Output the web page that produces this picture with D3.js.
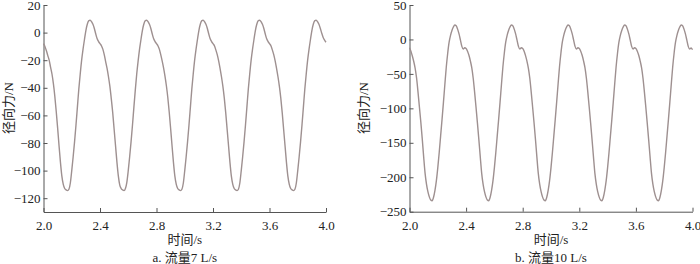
<!DOCTYPE html>
<html>
<head>
<meta charset="utf-8">
<style>
  body { margin: 0; background: #fff; }
  svg { display: block; }
  .axis path, .axis line { stroke: #555; }
  .axis text { fill: #222; font-size: 13px; font-family: "Liberation Serif", "Noto Sans CJK SC", serif; }
  .label { fill: #222; font-size: 13px; font-family: "Liberation Serif", "Noto Sans CJK SC", serif; }
</style>
</head>
<body>
<svg width="700" height="264"></svg>
<script src="https://d3js.org/d3.v7.min.js"></script>
<script>

// sampling: t = 2.00 .. 4.00, every 0.01 s
var t0 = 2.0, dt = 0.01;

var xTicks = [2.0, 2.4, 2.8, 3.2, 3.6, 4.0];
var yTicksA = [20, 0, -20, -40, -60, -80, -100, -120];
var yTicksB = [50, 0, -50, -100, -150, -200, -250];

// a. 流量7 L/s  radial force (N)
var forceA = [
  -8, -10, -13, -16.5, -20, -25, -30, -37, -46, -57,
  -69, -82, -94, -104, -110, -113, -114, -114.5, -113.5, -109,
  -100, -90, -79, -67, -54, -41, -30, -20, -12, -5,
  1.5, 6, 8.5, 9, 8, 6, 3, -1, -4.5, -6.5,

  -8, -9.5, -12, -16, -21, -26, -32, -39, -48, -58,
  -70, -82, -94, -104, -110.5, -113, -114, -114.5, -113, -108.5,
  -100, -90, -79, -67, -54, -41.5, -30, -20.5, -12, -5,
  1.5, 6, 8.5, 9, 8, 6, 3, -1, -4.5, -6.5,

  -8, -9.5, -12, -16, -20.5, -25.5, -31.5, -38.5, -47, -57.5,
  -69.5, -82, -94, -104, -110, -113, -114, -114.5, -113.5, -109,
  -100, -90, -79, -67, -54, -41, -30, -20, -12, -5,
  1.5, 6, 8.5, 9, 8, 6, 3, -1, -4.5, -6.5,

  -8, -9.5, -12.5, -16, -20.5, -26, -32, -39, -47.5, -58,
  -70, -82, -94, -104, -110, -113, -114, -114.5, -113.5, -109,
  -100, -90, -79, -67, -54, -41, -30, -20, -12, -5,
  1.5, 6, 8.5, 9, 8, 6, 3, -1, -4.5, -6.5,

  -8, -9.5, -12.5, -16, -20.5, -26, -32, -39, -47.5, -58,
  -70, -82, -94, -104, -110, -113, -114, -114.5, -113.5, -109,
  -100, -90, -79, -67, -54, -41, -30, -20, -12, -5,
  1.5, 6, 8.5, 9, 8, 6, 3, -0.5, -3.5, -5.5,
  -7
];

// b. 流量10 L/s  radial force (N)
var forceB = [
  -12, -17, -24, -32, -42, -56, -76, -98, -120, -144,
  -170, -194, -210, -221, -228.5, -233, -234, -229, -219, -205,
  -186, -164, -140, -116, -91, -65, -40, -20, -4, 6,
  13, 18, 21, 20, 15, 8, -1, -10, -14, -12,

  -13, -17, -23, -31, -41, -56, -76, -98, -121, -145,
  -170, -194, -210, -221, -228.5, -233, -234, -229, -219, -205,
  -186, -164, -140, -116, -91, -65, -40, -20, -4, 6,
  13, 18, 21, 20, 15, 8, -1, -10, -14, -12,

  -13, -17, -23.5, -31.5, -41.5, -56, -76, -98, -120.5, -144.5,
  -170, -194, -210, -221, -228.5, -233, -234, -229, -219, -205,
  -186, -164, -140, -116, -91, -65, -40, -20, -4, 6,
  13, 18, 21, 20, 15, 8, -1, -10, -14, -12,

  -13, -17, -23, -31, -41, -56, -76, -98, -121, -145,
  -170, -194, -210, -221, -228.5, -233, -234, -229, -219, -205,
  -186, -164, -140, -116, -91, -65, -40, -20, -4, 6,
  13, 18, 21, 20, 15, 8, -1, -10, -14, -12,

  -13, -17, -23, -31, -41, -56, -76, -98, -121, -145,
  -170, -194, -210, -221, -228.5, -233, -234, -229, -219, -205,
  -186, -164, -140, -116, -91, -65, -40, -20, -4, 6,
  13, 18, 21, 20, 15, 8, -1, -10, -14, -12.5,
  -15
];

var svg = d3.select("svg");

function panel(values, yDomain, yTicks, left, right, bottom, yTitleX, caption) {
  var x = d3.scaleLinear().domain([2, 4]).range([left, right]);
  var y = d3.scaleLinear().domain(yDomain).range([bottom, 5]);

  svg.append("g")
      .attr("class", "axis")
      .attr("transform", "translate(0," + bottom + ")")
      .call(d3.axisBottom(x).tickValues(xTicks).tickFormat(d3.format(".1f"))
        .tickSize(-4).tickSizeOuter(0).tickPadding(9));

  svg.append("g")
      .attr("class", "axis")
      .attr("transform", "translate(" + left + ",0)")
      .call(d3.axisLeft(y).tickValues(yTicks)
        .tickSize(-4).tickSizeOuter(0).tickPadding(3));

  var line = d3.line()
      .x(function(d, i) { return x(t0 + i * dt); })
      .y(function(d) { return y(d); })
      .curve(d3.curveMonotoneX);

  svg.append("path")
      .datum(values)
      .attr("fill", "none")
      .attr("stroke", "#9e9090")
      .attr("stroke-width", 1.4)
      .attr("d", line);

  var cx = (left + right) / 2;
  svg.append("text").attr("class", "label")
      .attr("x", cx).attr("y", 244)
      .attr("text-anchor", "middle")
      .text("时间/s");
  svg.append("text").attr("class", "label")
      .attr("x", cx).attr("y", 262)
      .attr("text-anchor", "middle")
      .text(caption);
  svg.append("text").attr("class", "label")
      .attr("transform", "translate(" + yTitleX + ",108) rotate(-90)")
      .attr("text-anchor", "middle")
      .text("径向力/N");
}

panel(forceA, [-130, 20], yTicksA, 43.5, 326, 212, 12.5, "a. 流量7 L/s");
panel(forceB, [-250, 50], yTicksB, 409.5, 692.5, 211.7, 367.5, "b. 流量10 L/s");

</script>
</body>
</html>
